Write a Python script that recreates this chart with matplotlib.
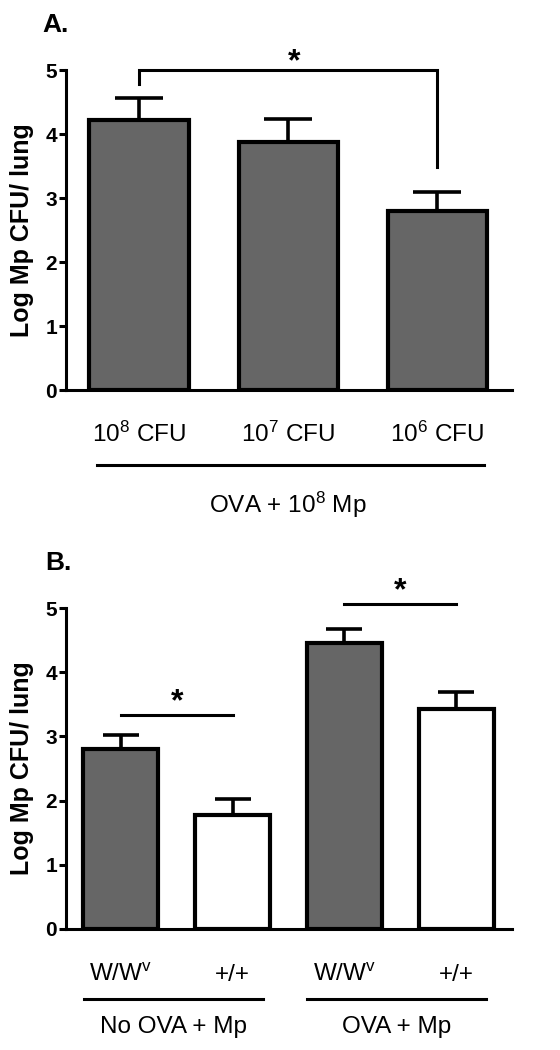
import numpy as np
import matplotlib
matplotlib.use("Agg")
import matplotlib.pyplot as plt

plt.rcParams["font.family"] = ["Liberation Sans", "DejaVu Sans"]
plt.rcParams["mathtext.fontset"] = "custom"
plt.rcParams["mathtext.rm"] = "Liberation Sans"
plt.rcParams["mathtext.it"] = "Liberation Sans:italic"
plt.rcParams["mathtext.bf"] = "Liberation Sans:bold"

# ── data: panel A (dose of Mp) ─────────────────────────────
a_labels = ["10$^{8}$ CFU", "10$^{7}$ CFU", "10$^{6}$ CFU"]
a_means = [4.22, 3.87, 2.80]
a_sem = [0.35, 0.37, 0.30]
a_group = "OVA + 10$^{8}$ Mp"

# ── data: panel B (mast cell deficient vs wild type) ───────
b_labels = ["W/W$^{\\mathrm{v}}$", "+/+", "W/W$^{\\mathrm{v}}$", "+/+"]
b_means = [2.80, 1.78, 4.45, 3.42]
b_sem = [0.22, 0.25, 0.22, 0.27]
b_colors = ["#666666", "white", "#666666", "white"]
b_groups = ["No OVA + Mp", "OVA + Mp"]

GREY = "#666666"
TICK_FS = 15
LAB_FS = 17.5


def style_axis(ax):
    ax.set_ylim(0, 5)
    ax.set_yticks(range(6))
    ax.spines["top"].set_visible(False)
    ax.spines["right"].set_visible(False)
    ax.spines["left"].set_linewidth(2.2)
    ax.spines["bottom"].set_linewidth(2.2)
    ax.tick_params(axis="y", direction="out", length=5, width=2.2, pad=1.5,
                   labelsize=TICK_FS)
    for t in ax.get_yticklabels():
        t.set_fontweight("bold")
    ax.tick_params(axis="x", length=0, labelbottom=False)
    ax.set_ylabel("Log Mp CFU/ lung", fontsize=18, fontweight="bold")
    ax.yaxis.set_label_coords(-0.072, 0.5)


fig = plt.figure(figsize=(5.6, 10.5), dpi=100)

# ── panel A ────────────────────────────────────────────────
axA = fig.add_axes([66 / 560, 1 - 390 / 1050, 446 / 560, 320 / 1050])
xa = np.arange(len(a_means))
axA.bar(xa, a_means, width=0.665, color=GREY, edgecolor="black",
        linewidth=3, zorder=2)
axA.errorbar(xa, a_means, yerr=[np.zeros(len(a_sem)), a_sem], fmt="none",
             ecolor="black", elinewidth=2.6, capsize=17, capthick=2.6, zorder=1)
axA.set_xlim(-0.49, 2.5)
style_axis(axA)

# significance bracket 10^8 vs 10^6
axA.plot([0, 0, 2, 2], [4.78, 5.0, 5.0, 3.49], color="black", lw=2.2,
         clip_on=False, solid_joinstyle="miter")
axA.text(1.04, 5.0, "*", ha="center", va="baseline", fontsize=23,
         fontweight="bold")

for x, lab in zip(xa, a_labels):
    axA.text(x, -0.1625, lab, ha="center", va="baseline", fontsize=LAB_FS,
             transform=axA.get_xaxis_transform())
axA.plot([xa[0] - 0.28, xa[-1] + 0.31], [-0.234, -0.234], color="black",
         lw=2.2, clip_on=False, transform=axA.get_xaxis_transform())
axA.text(xa.mean(), -0.384, a_group, ha="center", va="baseline",
         fontsize=LAB_FS, transform=axA.get_xaxis_transform())

fig.text(42 / 560, 1 - 32 / 1050, "A.", fontsize=19, fontweight="bold",
         va="baseline")

# ── panel B ────────────────────────────────────────────────
axB = fig.add_axes([66 / 560, 1 - 929 / 1050, 446 / 560, 321 / 1050])
xb = np.arange(len(b_means))
axB.bar(xb, b_means, width=0.67, color=b_colors, edgecolor="black",
        linewidth=3, zorder=2)
axB.errorbar(xb, b_means, yerr=[np.zeros(len(b_sem)), b_sem], fmt="none",
             ecolor="black", elinewidth=2.6, capsize=13, capthick=2.6, zorder=1)
axB.set_xlim(-0.49, 3.5)
style_axis(axB)

# significance lines within each group
for (i, j), y in zip([(0, 1), (2, 3)], [3.33, 5.06]):
    axB.plot([xb[i], xb[j]], [y, y], color="black", lw=2.2, clip_on=False)
    axB.text((xb[i] + xb[j]) / 2, y + 0.07, "*", ha="center", va="baseline",
             fontsize=23, fontweight="bold")

for x, lab in zip(xb, b_labels):
    axB.text(x, -0.162, lab, ha="center", va="baseline", fontsize=LAB_FS,
             transform=axB.get_xaxis_transform())
for k, grp in enumerate(b_groups):
    x0, x1 = xb[2 * k], xb[2 * k + 1]
    axB.plot([x0 - 0.33, x1 + 0.27], [-0.218, -0.218], color="black", lw=2.2,
             clip_on=False, transform=axB.get_xaxis_transform())
    axB.text((x0 + x1) / 2 - 0.03, -0.324, grp, ha="center", va="baseline",
             fontsize=LAB_FS, transform=axB.get_xaxis_transform())

fig.text(45 / 560, 1 - 570 / 1050, "B.", fontsize=19, fontweight="bold",
         va="baseline")

fig.savefig("out.png", dpi=100)
